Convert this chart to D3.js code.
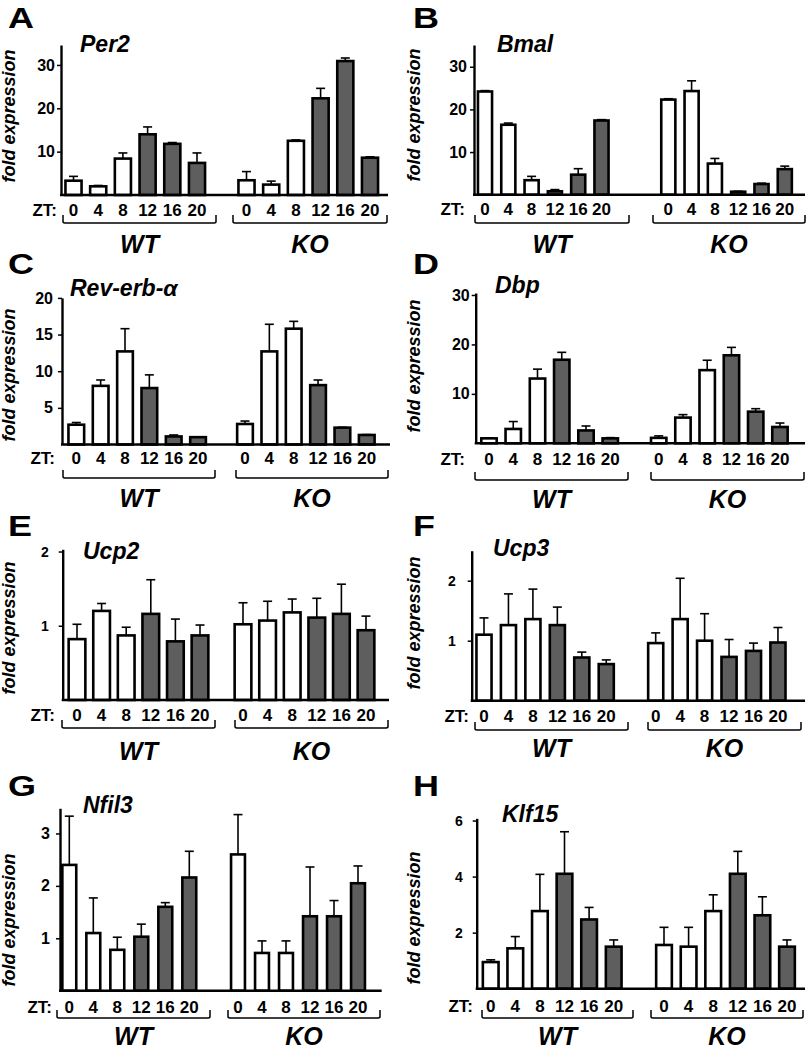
<!DOCTYPE html>
<html>
<head>
<meta charset="utf-8">
<script src="https://cdn.jsdelivr.net/npm/d3@7/dist/d3.min.js"></script>
<style>
  html, body { margin: 0; padding: 0; background: #fff; }
  svg { display: block; font-family: "Liberation Sans", Arial, Helvetica, sans-serif; }
</style>
</head>
<body>
<svg id="chart" width="810" height="1050"></svg>
<script>
// ---------------- DATA ----------------
const ztLabels = ["0", "4", "8", "12", "16", "20"];
const groups = ["WT", "KO"];
const panelLetters = ["A", "B", "C", "D", "E", "F", "G", "H"];
const genes = ["Per2", "Bmal", "Rev-erb-\u03B1", "Dbp", "Ucp2", "Ucp3", "Nfil3", "Klf15"];

// 12 values each: WT ZT0..20, then KO ZT0..20
const per2     = [3.3, 2.0, 8.4, 14.0, 11.8, 7.4,   3.4, 2.4, 12.5, 22.3, 30.9, 8.6];
const per2Err  = [1.0, 0.2, 1.3, 1.7, 0.3, 2.3,     2.0, 0.8, 0.2, 2.3, 0.7, 0.2];
const bmal     = [24.2, 16.4, 3.4, 0.8, 4.7, 17.4,  22.3, 24.3, 7.3, 0.7, 2.5, 6.0];
const bmalErr  = [0.2, 0.4, 0.9, 0.4, 1.4, 0.2,     0.2, 2.4, 1.2, 0.1, 0.2, 0.7];
const revErb   = [2.7, 8.0, 12.7, 7.7, 1.1, 1.0,    2.8, 12.7, 15.8, 8.1, 2.3, 1.3];
const revErbErr= [0.3, 0.8, 3.1, 1.8, 0.2, 0.05,    0.4, 3.7, 1.0, 0.7, 0.05, 0.05];
const dbp      = [1.0, 2.9, 13.1, 16.9, 2.6, 1.0,   1.1, 5.2, 14.8, 17.8, 6.4, 3.3];
const dbpErr   = [0.1, 1.5, 1.9, 1.5, 0.9, 0.15,    0.4, 0.6, 2.0, 1.6, 0.6, 0.8];
const ucp2     = [0.82, 1.2, 0.87, 1.16, 0.79, 0.87, 1.02, 1.07, 1.18, 1.11, 1.16, 0.94];
const ucp2Err  = [0.2, 0.1, 0.11, 0.46, 0.3, 0.14,  0.29, 0.26, 0.18, 0.26, 0.4, 0.19];
const ucp3     = [1.1, 1.26, 1.36, 1.26, 0.72, 0.61, 0.96, 1.36, 1.0, 0.73, 0.83, 0.97];
const ucp3Err  = [0.28, 0.52, 0.5, 0.3, 0.09, 0.07, 0.17, 0.68, 0.45, 0.29, 0.13, 0.25];
const nfil3    = [2.4, 1.1, 0.78, 1.03, 1.6, 2.16,  2.6, 0.72, 0.72, 1.42, 1.42, 2.05];
const nfil3Err = [0.93, 0.67, 0.24, 0.24, 0.08, 0.5, 0.76, 0.23, 0.23, 0.94, 0.3, 0.33];
const klf15    = [0.95, 1.44, 2.77, 4.1, 2.47, 1.5, 1.56, 1.5, 2.77, 4.1, 2.62, 1.5];
const klf15Err = [0.08, 0.42, 1.31, 1.5, 0.43, 0.24, 0.63, 0.69, 0.58, 0.8, 0.66, 0.24];

const per2Ticks = [10, 20, 30];
const bmalTicks = [10, 20, 30];
const revErbTicks = [5, 10, 15, 20];
const dbpTicks = [10, 20, 30];
const ucp2Ticks = [1, 2];
const ucp3Ticks = [1, 2];
const nfil3Ticks = [1, 2, 3];
const klf15Ticks = [2, 4, 6];

const yMax = [34.6, 35.1, 20, 30.4, 2.03, 2.5, 3.48, 6.08];

const means = [per2, bmal, revErb, dbp, ucp2, ucp3, nfil3, klf15];
const errs  = [per2Err, bmalErr, revErbErr, dbpErr, ucp2Err, ucp3Err, nfil3Err, klf15Err];
const ticks = [per2Ticks, bmalTicks, revErbTicks, dbpTicks, ucp2Ticks, ucp3Ticks, nfil3Ticks, klf15Ticks];

// ---------------- LAYOUT ----------------
const layout = [
  { ax: 61,  axEnd: 388, y0: 195,   yTop: 45,    c0: [73.5, 246.5], slot: 24.7, barW: 18.7, tickGap: 6,  tickFs: 16,
    letter: [8, 28], gene: [80, 52], ylab: [15, 116], zt: [57, 216], brY: 223, br: [[63, 216], [233, 387]], labY: 253 },
  { ax: 474, axEnd: 805, y0: 194.7, yTop: 45,    c0: [485, 668.3], slot: 23.3, barW: 16.7, tickGap: 7,  tickFs: 16,
    letter: [413, 28], gene: [497, 52], ylab: [420, 115], zt: [465, 215], brY: 223, br: [[475, 629], [653, 805]], labY: 253 },
  { ax: 62,  axEnd: 390, y0: 444.5, yTop: 297.9, c0: [76.3, 245], slot: 24.35, barW: 18.3, tickGap: 9,  tickFs: 16,
    letter: [8, 274], gene: [70, 296], ylab: [15, 375], zt: [55, 464], brY: 478, br: [[63, 215], [236, 388]], labY: 507 },
  { ax: 475.7, axEnd: 805, y0: 443.3, yTop: 293, c0: [489, 658.7], slot: 24.25, barW: 18, tickGap: 6, tickFs: 16,
    letter: [413, 274], gene: [495, 293], ylab: [420, 366], zt: [465, 465], brY: 480, br: [[475, 628], [651, 804]], labY: 508 },
  { ax: 62.7, axEnd: 389, y0: 700,  yTop: 549.3, c0: [77, 243], slot: 24.6, barW: 19.3, tickGap: 14, tickFs: 14,
    letter: [8, 536], gene: [83, 559], ylab: [15, 628], zt: [55, 721], brY: 728, br: [[62, 215], [235, 388]], labY: 760 },
  { ax: 471.7, axEnd: 805, y0: 700.7, yTop: 550.7, c0: [484, 655.7], slot: 24.45, barW: 17.7, tickGap: 16, tickFs: 14,
    letter: [413, 536], gene: [493, 556], ylab: [420, 623], zt: [469, 722], brY: 730, br: [[475, 628], [648, 801]], labY: 757 },
  { ax: 60,  axEnd: 381.7, y0: 990.7, yTop: 808.3, c0: [69.3, 238], slot: 24, barW: 16.5, tickGap: 10, tickFs: 16,
    letter: [8, 796], gene: [83, 813], ylab: [15, 920], zt: [52, 1013], brY: 1018, br: [[57, 210], [228, 380]], labY: 1045 },
  { ax: 476.7, axEnd: 805, y0: 988.7, yTop: 818.3, c0: [490.7, 664], slot: 24.6, barW: 18.3, tickGap: 14, tickFs: 14,
    letter: [413, 796], gene: [502, 822], ylab: [420, 918], zt: [473, 1012], brY: 1018, br: [[482, 633], [651, 803]], labY: 1045 }
];

const DARK = "#5e5e5e";
const STROKE = 2.6;
const svg = d3.select("#chart");

panelLetters.forEach((letter, p) => {
  const L = layout[p];
  const g = svg.append("g");

  // panel letter
  g.append("text")
    .attr("transform", `translate(${L.letter[0]},${L.letter[1]}) scale(1.2,1)`)
    .attr("font-size", 30).attr("font-weight", "bold").attr("fill", "#000")
    .text(letter);

  // y scale
  const y = d3.scaleLinear().domain([0, yMax[p]]).range([L.y0, L.yTop]);

  // x scales per group
  const pad = 1 - (L.barW - STROKE) / L.slot;
  const xs = groups.map((grp, gi) => d3.scaleBand()
    .domain(ztLabels)
    .range([L.c0[gi] - L.slot / 2, L.c0[gi] - L.slot / 2 + 6 * L.slot])
    .paddingInner(pad).paddingOuter(pad / 2));

  const rows = means[p].map((v, i) => ({
    grp: groups[Math.floor(i / 6)], gi: Math.floor(i / 6), zt: ztLabels[i % 6], zi: i % 6, v, e: errs[p][i]
  }));

  // error bars (upward only)
  const eg = g.append("g").attr("stroke", "#000").attr("stroke-width", 1.6);
  rows.forEach(r => {
    const cx = xs[r.gi](r.zt) + xs[r.gi].bandwidth() / 2;
    const yt = y(r.v + r.e);
    eg.append("line").attr("x1", cx).attr("x2", cx).attr("y1", y(r.v)).attr("y2", yt);
    eg.append("line").attr("x1", cx - 4.5).attr("x2", cx + 4.5).attr("y1", yt).attr("y2", yt);
  });

  // bars
  g.append("g").selectAll("rect").data(rows).join("rect")
    .attr("x", r => xs[r.gi](r.zt))
    .attr("width", xs[0].bandwidth())
    .attr("y", r => y(r.v))
    .attr("height", r => y(0) - y(r.v))
    .attr("fill", r => r.zi < 3 ? "#fff" : DARK)
    .attr("stroke", "#000").attr("stroke-width", STROKE);

  // y axis
  const yAxis = d3.axisLeft(y).tickValues(ticks[p]).tickSize(4).tickSizeOuter(0)
    .tickPadding(L.tickGap - 4).tickFormat(d3.format("d"));
  const ya = g.append("g").attr("transform", `translate(${L.ax},0)`).call(yAxis);
  ya.select(".domain").attr("stroke", "#000").attr("stroke-width", 2.4);
  ya.selectAll(".tick line").attr("stroke", "#000").attr("stroke-width", 1.5);
  ya.selectAll(".tick text").attr("font-size", L.tickFs).attr("font-weight", "bold")
    .attr("font-family", "'Liberation Sans', Arial, sans-serif").attr("fill", "#000");

  // x baseline
  g.append("line").attr("x1", L.ax - 1).attr("x2", L.axEnd).attr("y1", y(0)).attr("y2", y(0))
    .attr("stroke", "#000").attr("stroke-width", 2.6);

  // gene name
  g.append("text").attr("x", L.gene[0]).attr("y", L.gene[1])
    .attr("font-size", 23).attr("font-weight", "bold").attr("font-style", "italic")
    .text(genes[p]);

  // y-axis label
  g.append("text")
    .attr("transform", `translate(${L.ylab[0]},${L.ylab[1]}) rotate(-90)`)
    .attr("text-anchor", "middle").attr("font-size", 18).attr("font-weight", "bold").attr("font-style", "italic")
    .text("fold expression");

  // ZT labels
  g.append("text").attr("x", L.zt[0]).attr("y", L.zt[1]).attr("text-anchor", "end")
    .attr("font-size", 17).attr("font-weight", "bold").text("ZT:");
  groups.forEach((grp, gi) => {
    g.append("g").selectAll("text").data(ztLabels).join("text")
      .attr("x", d => xs[gi](d) + xs[gi].bandwidth() / 2)
      .attr("y", L.zt[1]).attr("text-anchor", "middle")
      .attr("font-size", 17).attr("font-weight", "bold").text(d => d);

    // bracket
    const [bx1, bx2] = L.br[gi];
    g.append("path")
      .attr("d", `M${bx1},${L.brY - 8} L${bx1},${L.brY - 1.5} Q${bx1},${L.brY} ${bx1 + 2},${L.brY} L${bx2 - 2},${L.brY} Q${bx2},${L.brY} ${bx2},${L.brY - 1.5} L${bx2},${L.brY - 8}`)
      .attr("fill", "none").attr("stroke", "#000").attr("stroke-width", 1.5);

    g.append("text").attr("x", (bx1 + bx2) / 2).attr("y", L.labY).attr("text-anchor", "middle")
      .attr("font-size", 25).attr("font-weight", "bold").attr("font-style", "italic")
      .text(grp);
  });
});
</script>
</body>
</html>
